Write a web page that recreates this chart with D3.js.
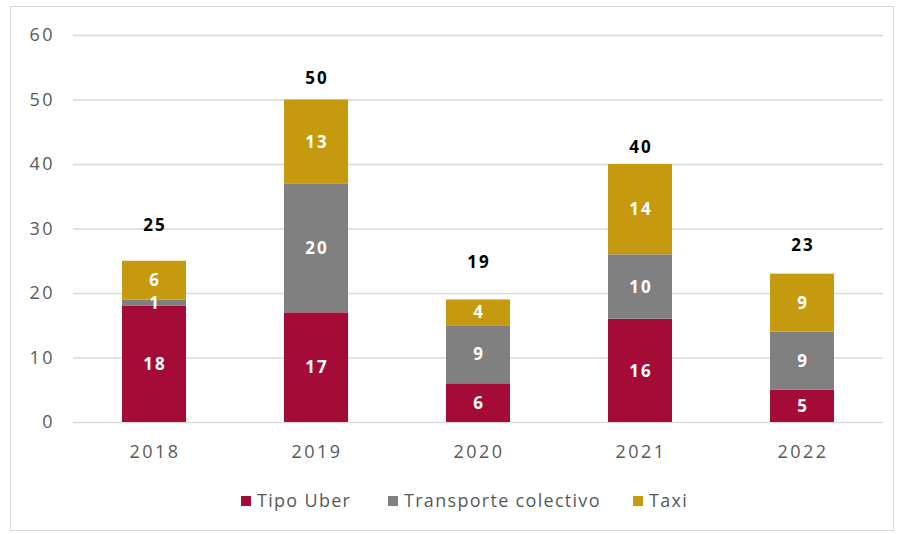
<!DOCTYPE html>
<html>
<head>
<meta charset="utf-8">
<script src="https://cdn.jsdelivr.net/npm/d3@7"></script>
<style>
  body { margin: 0; background: #fff; }
  svg text { font-family: "Open Sans", sans-serif; }
</style>
</head>
<body>
<svg id="chart"></svg>
<script>
// data
var years = ["2018", "2019", "2020", "2021", "2022"];
var seriesNames = ["Tipo Uber", "Transporte colectivo", "Taxi"];
var uber = [18, 17, 6, 16, 5];
var colectivo = [1, 20, 9, 10, 9];
var taxi = [6, 13, 4, 14, 9];
var yTicks = [0, 10, 20, 30, 40, 50, 60];

var colors = ["#A50B37", "#808080", "#C59A0E"];
// total labels were placed by hand in the original, lift above bar top (px)
var labelLift = [30, 16, 31, 11, 23];

var width = 899, height = 534;
var margin = {top: 35, right: 16, bottom: 112, left: 73};

var svg = d3.select("#chart").attr("width", width).attr("height", height);

// outer frame
svg.append("rect")
    .attr("x", 10.5).attr("y", 6.5)
    .attr("width", 883).attr("height", 524)
    .attr("fill", "none").attr("stroke", "#d9d9d9");

var rows = years.map(function(y, i) {
  return {year: y, "Tipo Uber": uber[i], "Transporte colectivo": colectivo[i], "Taxi": taxi[i]};
});
var stacked = d3.stack().keys(seriesNames)(rows);
var total = d => d["Tipo Uber"] + d["Transporte colectivo"] + d["Taxi"];

var x = d3.scaleBand().domain(years)
    .range([margin.left, width - margin.right])
    .paddingInner(0.605).paddingOuter(0.3025);
var y = d3.scaleLinear().domain([0, 60])
    .range([height - margin.bottom, margin.top]);
var cx = d => x(d) + x.bandwidth() / 2;

// gridlines
svg.append("g").selectAll("line")
    .data(yTicks).enter().append("line")
    .attr("x1", margin.left).attr("x2", width - margin.right)
    .attr("y1", d => y(d) + 0.5).attr("y2", d => y(d) + 0.5)
    .attr("stroke", "#d9d9d9").attr("stroke-width", 1.5);

// y labels
svg.append("g").selectAll("text")
    .data(yTicks).enter().append("text")
    .attr("x", 55).attr("y", d => y(d))
    .attr("dy", "0.35em").attr("text-anchor", "end")
    .attr("fill", "#595959").style("font-size", "18px").style("letter-spacing", "2.5px")
    .text(d => d);

// bars
var layers = svg.append("g").selectAll("g")
    .data(stacked).enter().append("g")
    .attr("fill", (d, i) => colors[i]);

layers.selectAll("rect")
    .data(d => d).enter().append("rect")
    .attr("x", d => x(d.data.year))
    .attr("y", d => y(d[1]))
    .attr("width", x.bandwidth())
    .attr("height", d => y(d[0]) - y(d[1]));

// segment labels (drawn after all bars so small segments stay readable)
svg.append("g").selectAll("g")
    .data(stacked).enter().append("g")
  .selectAll("text")
    .data(d => d).enter().append("text")
    .attr("x", d => cx(d.data.year) + 1)
    .attr("y", d => (y(d[0]) + y(d[1])) / 2)
    .attr("dy", "0.36em")
    .attr("text-anchor", "middle")
    .attr("fill", "#fff").style("font-size", "17px").style("font-weight", "bold")
    .style("letter-spacing", "2px")
    .text(d => d[1] - d[0]);

// totals
svg.append("g").selectAll("text")
    .data(rows).enter().append("text")
    .attr("x", d => cx(d.year) + 1)
    .attr("y", (d, i) => y(total(d)) - labelLift[i])
    .attr("text-anchor", "middle")
    .attr("fill", "#000").style("font-size", "17px").style("font-weight", "bold")
    .style("letter-spacing", "2px")
    .text(d => total(d));

// x labels
svg.append("g").selectAll("text")
    .data(years).enter().append("text")
    .attr("x", d => cx(d) + 1)
    .attr("y", y(0) + 30)
    .attr("dy", "0.35em")
    .attr("text-anchor", "middle")
    .attr("fill", "#595959").style("font-size", "18px").style("letter-spacing", "2.5px")
    .text(d => d);

// legend
var legendX = [241, 388, 633];
var lg = svg.append("g").selectAll("g")
    .data(seriesNames).enter().append("g")
    .attr("transform", (d, i) => "translate(" + legendX[i] + ",501)");
lg.append("rect")
    .attr("x", 0).attr("y", -5).attr("width", 10).attr("height", 10)
    .attr("fill", (d, i) => colors[i]);
lg.append("text")
    .attr("x", 16).attr("dy", "0.35em")
    .attr("fill", "#595959").style("font-size", "18px").style("letter-spacing", "1.3px")
    .text(d => d);
</script>
</body>
</html>
